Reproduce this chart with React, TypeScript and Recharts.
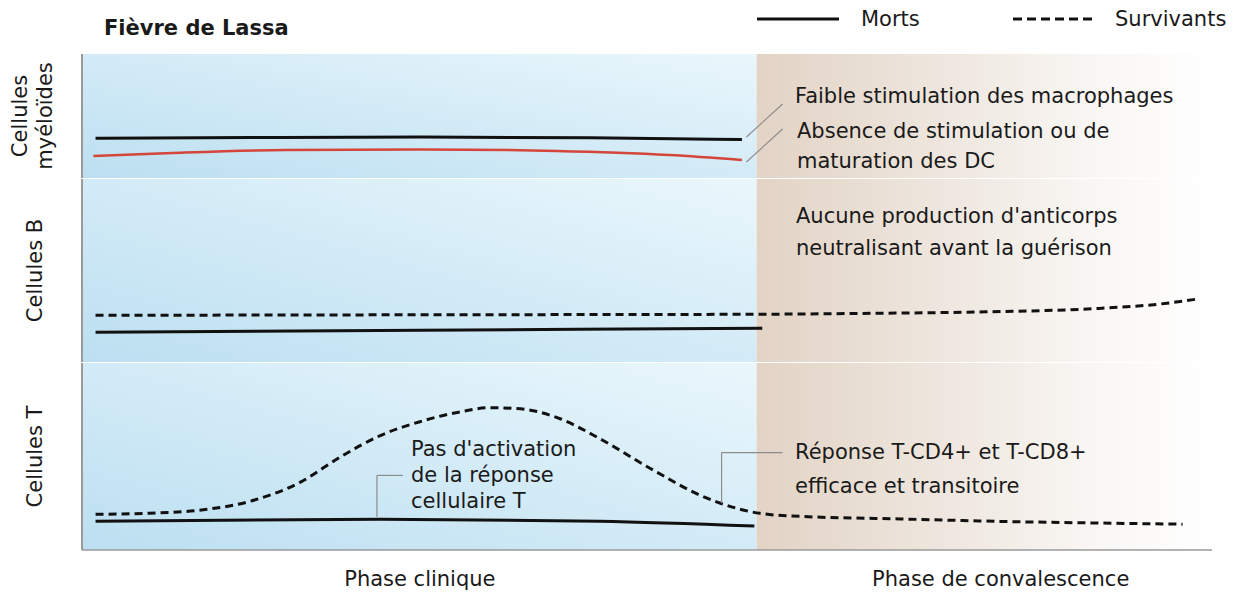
import { LineChart, Line, XAxis, YAxis, ReferenceArea, ReferenceLine } from "recharts";

// time axis 0..100, split between clinical and convalescent phase
const PHASE_SPLIT = 59.7;
const phaseTicks = [29.9, 81.3];
const phaseNames = ["Phase clinique", "Phase de convalescence"];

// Cellules myéloïdes
const macroT = [1.2, 15, 30, 45, 58.4];
const macroV = [32.0, 32.6, 33.0, 32.4, 31.0];
const dcT = [1, 8, 18, 30, 42, 52, 58.4];
const dcV = [17.7, 20.2, 22.6, 23.0, 21.8, 18.5, 14.5];

// Cellules B
const bSurvT = [1.2, 30, 59.7, 70, 80, 90, 96, 98.8];
const bSurvV = [25.5, 25.8, 26.1, 26.6, 27.4, 29.3, 32.1, 34.5];
const bDeadT = [1.2, 30, 60.2];
const bDeadV = [16.3, 17.4, 18.5];

// Cellules T
const tSurvT = [1.2, 6.0, 10.4, 14.9, 19.3, 22.8, 26.4, 29.9, 33.5, 36.1, 38.8, 42.3, 45.8, 50.3, 54.7, 56.5, 60.0, 63.5, 72.4, 81.2, 90.1, 97.4];
const tSurvV = [19.1, 19.7, 21.3, 26.1, 36.2, 49.5, 61.2, 68.6, 73.9, 76.1, 75.5, 70.2, 59.6, 43.6, 29.3, 25.0, 19.6, 18.0, 16.6, 15.3, 14.4, 13.8];
const tDeadT = [1.2, 26.4, 45.8, 59.5];
const tDeadV = [15.4, 16.5, 15.4, 12.8];

const legendNames = ["Morts", "Survivants"];
const myeloNotes = ["Faible stimulation des macrophages", "Absence de stimulation ou de", "maturation des DC"];
const bNotes = ["Aucune production d'anticorps", "neutralisant avant la guérison"];
const tDeadNotes = ["Pas d'activation", "de la réponse", "cellulaire T"];
const tSurvNotes = ["Réponse T-CD4+ et T-CD8+", "efficace et transitoire"];

const FONT = '"DejaVu Sans", Verdana, sans-serif';
const FS = 21;
const W = 1237;
const GRAY = "#9a9a9a";
const LEADER = "#8c8c8c";
const TEXT = "#1a1a1a";

const zip = (ts: number[], vs: number[]) => ts.map((t, i) => ({ t, v: vs[i] }));

function SideLabel(props: any) {
  const { viewBox, lines, baselines } = props;
  const cy = viewBox.y + viewBox.height / 2;
  return (
    <g>
      {lines.map((s: string, i: number) => (
        <text
          key={s}
          x={0}
          y={0}
          transform={`translate(${baselines[i]},${cy}) rotate(-90)`}
          textAnchor="middle"
          fontSize={FS}
          fontFamily={FONT}
          fill={TEXT}
        >
          {s}
        </text>
      ))}
    </g>
  );
}

function Backdrop({ id }: { id: string }) {
  return (
    <defs>
      <linearGradient id={`blue-${id}`} x1="0" y1="1" x2="1" y2="0">
        <stop offset="0%" stopColor="#bcdff1" />
        <stop offset="100%" stopColor="#eaf7fc" />
      </linearGradient>
      <linearGradient id={`beige-${id}`} x1="0" y1="0" x2="1" y2="0">
        <stop offset="0%" stopColor="#e2d3c5" />
        <stop offset="40%" stopColor="#eee6de" />
        <stop offset="78%" stopColor="#faf8f6" />
        <stop offset="100%" stopColor="#ffffff" />
      </linearGradient>
    </defs>
  );
}

const lineBase = {
  type: "monotone" as const,
  dataKey: "v",
  stroke: "#111",
  strokeWidth: 3,
  dot: false,
  activeDot: false,
  isAnimationActive: false,
};

function areas(id: string) {
  return [
    <ReferenceArea key="a" x1={0} x2={PHASE_SPLIT} y1={0} y2={100} fill={`url(#blue-${id})`} fillOpacity={1} stroke="none" />,
    <ReferenceArea key="b" x1={PHASE_SPLIT} x2={100} y1={0} y2={100} fill={`url(#beige-${id})`} fillOpacity={1} stroke="none" />,
  ];
}

const xHidden = {
  type: "number" as const,
  dataKey: "t",
  domain: [0, 100],
  height: 0,
  tick: false,
  tickLine: false,
  axisLine: { stroke: GRAY, strokeWidth: 1.5 },
};

function yAxis(lines: string[], baselines: number[]) {
  return (
    <YAxis
      type="number"
      domain={[0, 100]}
      width={82}
      tick={false}
      tickLine={false}
      axisLine={{ stroke: GRAY, strokeWidth: 2 }}
      label={<SideLabel lines={lines} baselines={baselines} />}
    />
  );
}

function Note({ x, y, text, bold }: { x: number; y: number; text: string; bold?: boolean }) {
  return (
    <div
      style={{
        position: "absolute",
        left: x,
        top: y - 13,
        height: 26,
        lineHeight: "26px",
        fontSize: FS,
        fontWeight: bold ? 700 : 400,
        whiteSpace: "nowrap",
        color: TEXT,
      }}
    >
      {text}
    </div>
  );
}

export default function App() {
  const margin = { top: 0, right: 25, bottom: 2, left: 0 };
  return (
    <div style={{ position: "absolute", left: 0, top: 0, width: W, height: 592, background: "#fff", fontFamily: FONT }}>
      <div style={{ position: "absolute", left: 0, top: 54 }}>
        <LineChart width={W} height={126} margin={margin}>
          <Backdrop id="m" />
          {areas("m")}
          <XAxis {...xHidden} />
          {yAxis(["Cellules", "myéloïdes"], [27, 52])}
          <Line {...lineBase} data={zip(macroT, macroV)} />
          <Line {...lineBase} data={zip(dcT, dcV)} stroke="#d4453a" strokeWidth={2.5} />
          <ReferenceLine segment={[{ x: 58.8, y: 33.1 }, { x: 62.0, y: 59.7 }]} stroke={LEADER} strokeWidth={1.2} />
          <ReferenceLine segment={[{ x: 58.8, y: 12.9 }, { x: 62.0, y: 39.5 }]} stroke={LEADER} strokeWidth={1.2} />
        </LineChart>
      </div>
      <div style={{ position: "absolute", left: 0, top: 179 }}>
        <LineChart width={W} height={185} margin={margin}>
          <Backdrop id="b" />
          {areas("b")}
          <XAxis {...xHidden} />
          {yAxis(["Cellules B"], [42])}
          <Line {...lineBase} data={zip(bDeadT, bDeadV)} />
          <Line {...lineBase} data={zip(bSurvT, bSurvV)} strokeDasharray="8 5" />
        </LineChart>
      </div>
      <div style={{ position: "absolute", left: 0, top: 363 }}>
        <LineChart width={W} height={229} margin={{ ...margin, bottom: 0 }}>
          <Backdrop id="t" />
          {areas("t")}
          <XAxis
            type="number"
            dataKey="t"
            domain={[0, 100]}
            ticks={phaseTicks}
            interval={0}
            tickFormatter={(v: number) => phaseNames[phaseTicks.indexOf(v)]}
            tick={{ fill: TEXT, fontSize: FS, fontFamily: FONT }}
            tickLine={false}
            tickMargin={15}
            height={42}
            axisLine={{ stroke: GRAY, strokeWidth: 1.5 }}
          />
          {yAxis(["Cellules T"], [42])}
          <Line {...lineBase} data={zip(tDeadT, tDeadV)} />
          <Line {...lineBase} data={zip(tSurvT, tSurvV)} strokeDasharray="8 5" />
          <ReferenceLine segment={[{ x: 26.1, y: 17.6 }, { x: 26.1, y: 39.9 }]} stroke={LEADER} strokeWidth={1.2} />
          <ReferenceLine segment={[{ x: 26.1, y: 39.9 }, { x: 28.4, y: 39.9 }]} stroke={LEADER} strokeWidth={1.2} />
          <ReferenceLine segment={[{ x: 56.6, y: 25.0 }, { x: 56.6, y: 52.1 }]} stroke={LEADER} strokeWidth={1.2} />
          <ReferenceLine segment={[{ x: 56.6, y: 52.1 }, { x: 62.0, y: 52.1 }]} stroke={LEADER} strokeWidth={1.2} />
        </LineChart>
      </div>

      <Note x={104} y={28} text="Fièvre de Lassa" bold />
      <svg style={{ position: "absolute", left: 757, top: 16 }} width={82} height={6}>
        <line x1={0} y1={3} x2={82} y2={3} stroke="#111" strokeWidth={3} />
      </svg>
      <Note x={861} y={19} text={legendNames[0]} />
      <svg style={{ position: "absolute", left: 1013, top: 16 }} width={82} height={6}>
        <line x1={0} y1={3} x2={82} y2={3} stroke="#111" strokeWidth={3} strokeDasharray="9 5" />
      </svg>
      <Note x={1115} y={19} text={legendNames[1]} />

      <Note x={795} y={96} text={myeloNotes[0]} />
      <Note x={797} y={131} text={myeloNotes[1]} />
      <Note x={797} y={161} text={myeloNotes[2]} />
      <Note x={796} y={216} text={bNotes[0]} />
      <Note x={796} y={248} text={bNotes[1]} />
      <Note x={411} y={449} text={tDeadNotes[0]} />
      <Note x={411} y={475} text={tDeadNotes[1]} />
      <Note x={411} y={501} text={tDeadNotes[2]} />
      <Note x={795} y={452} text={tSurvNotes[0]} />
      <Note x={795} y={486} text={tSurvNotes[1]} />
    </div>
  );
}
